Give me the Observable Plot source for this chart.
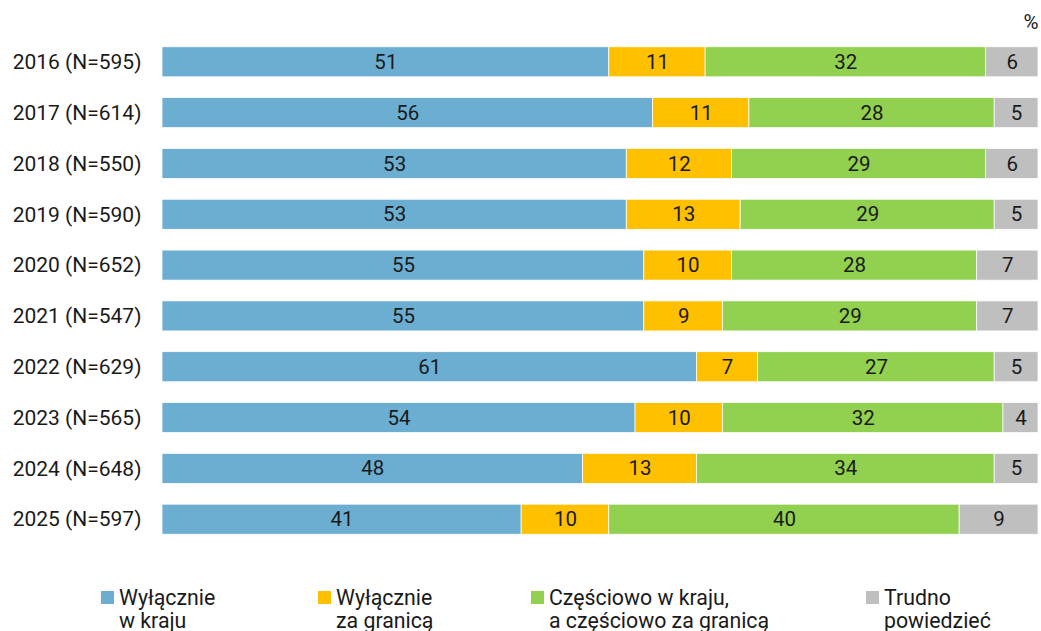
<!DOCTYPE html>
<html>
<head>
<meta charset="utf-8">
<script src="https://cdn.jsdelivr.net/npm/d3@7"></script>
<script src="https://cdn.jsdelivr.net/npm/@observablehq/plot@0.6"></script>
<style>
  html, body { margin: 0; padding: 0; background: #fff; }
  body { width: 1041px; height: 631px; overflow: hidden; font-family: Roboto, "Noto Sans", sans-serif; color: #1a1a1a; }
  #chart svg { display: block; }
  #legend { position: relative; height: 80px; font-size: 21.3px; line-height: 23px; }
  .item { position: absolute; top: 31px; }
  .sw { position: absolute; left: 0; top: 5px; width: 13px; height: 13px; }
  .lab { position: absolute; left: 18px; top: 0; white-space: nowrap; }
</style>
</head>
<body>
<div id="chart"></div>
<div id="legend"></div>
<script>
const years = ["2016 (N=595)", "2017 (N=614)", "2018 (N=550)", "2019 (N=590)", "2020 (N=652)",
               "2021 (N=547)", "2022 (N=629)", "2023 (N=565)", "2024 (N=648)", "2025 (N=597)"];
const categories = ["Wyłącznie w kraju", "Wyłącznie za granicą", "Częściowo w kraju, a częściowo za granicą", "Trudno powiedzieć"];
const legendLines = [["Wyłącznie", "w kraju"], ["Wyłącznie", "za granicą"], ["Częściowo w kraju,", "a częściowo za granicą"], ["Trudno", "powiedzieć"]];
const colors = ["#6caed2", "#ffc000", "#92d050", "#bfbfbf"];
const krajValues     = [51, 56, 53, 53, 55, 55, 61, 54, 48, 41];
const granicaValues  = [11, 11, 12, 13, 10, 9, 7, 10, 13, 10];
const czesciowoValues= [32, 28, 29, 29, 28, 29, 27, 32, 34, 40];
const trudnoValues   = [6, 5, 6, 5, 7, 7, 5, 4, 5, 9];

const series = [krajValues, granicaValues, czesciowoValues, trudnoValues];
const data = [];
years.forEach((y, i) => {
  categories.forEach((c, j) => data.push({year: y, cat: c, value: series[j][i]}));
});

const plot = Plot.plot({
  width: 1041,
  height: 555,
  marginTop: 26,
  marginBottom: 0,
  marginLeft: 162,
  marginRight: 3,
  style: {fontFamily: "Roboto, 'Noto Sans', sans-serif", fontSize: "21px", color: "#1a1a1a"},
  x: {domain: [0, 100], axis: null},
  y: {domain: years, padding: 0.409, round: false, label: null, tickSize: 0, tickPadding: 21},
  color: {domain: categories, range: colors},
  marks: [
    Plot.barX(data, Plot.stackX({x: "value", y: "year", fill: "cat", z: "cat", stroke: "#fff", strokeWidth: 0.75})),
    Plot.text(data, Plot.stackX({x: "value", y: "year", z: "cat", text: d => String(d.value), fill: "#1a1a1a", fontSize: 20.5})),
    Plot.text(["%"], {frameAnchor: "top-right", dy: -4, text: d => d, textAnchor: "end", lineAnchor: "middle", fontSize: 20.5, fill: "#1a1a1a"})
  ]
});
document.getElementById("chart").appendChild(plot);

const legend = document.getElementById("legend");
const lx = [101, 318, 531, 866];
categories.forEach((c, i) => {
  const it = document.createElement("div");
  it.className = "item";
  it.style.left = lx[i] + "px";
  const sw = document.createElement("div");
  sw.className = "sw";
  sw.style.background = colors[i];
  const lab = document.createElement("div");
  lab.className = "lab";
  lab.innerHTML = legendLines[i].join("<br>");
  it.appendChild(sw);
  it.appendChild(lab);
  legend.appendChild(it);
});
</script>
</body>
</html>
